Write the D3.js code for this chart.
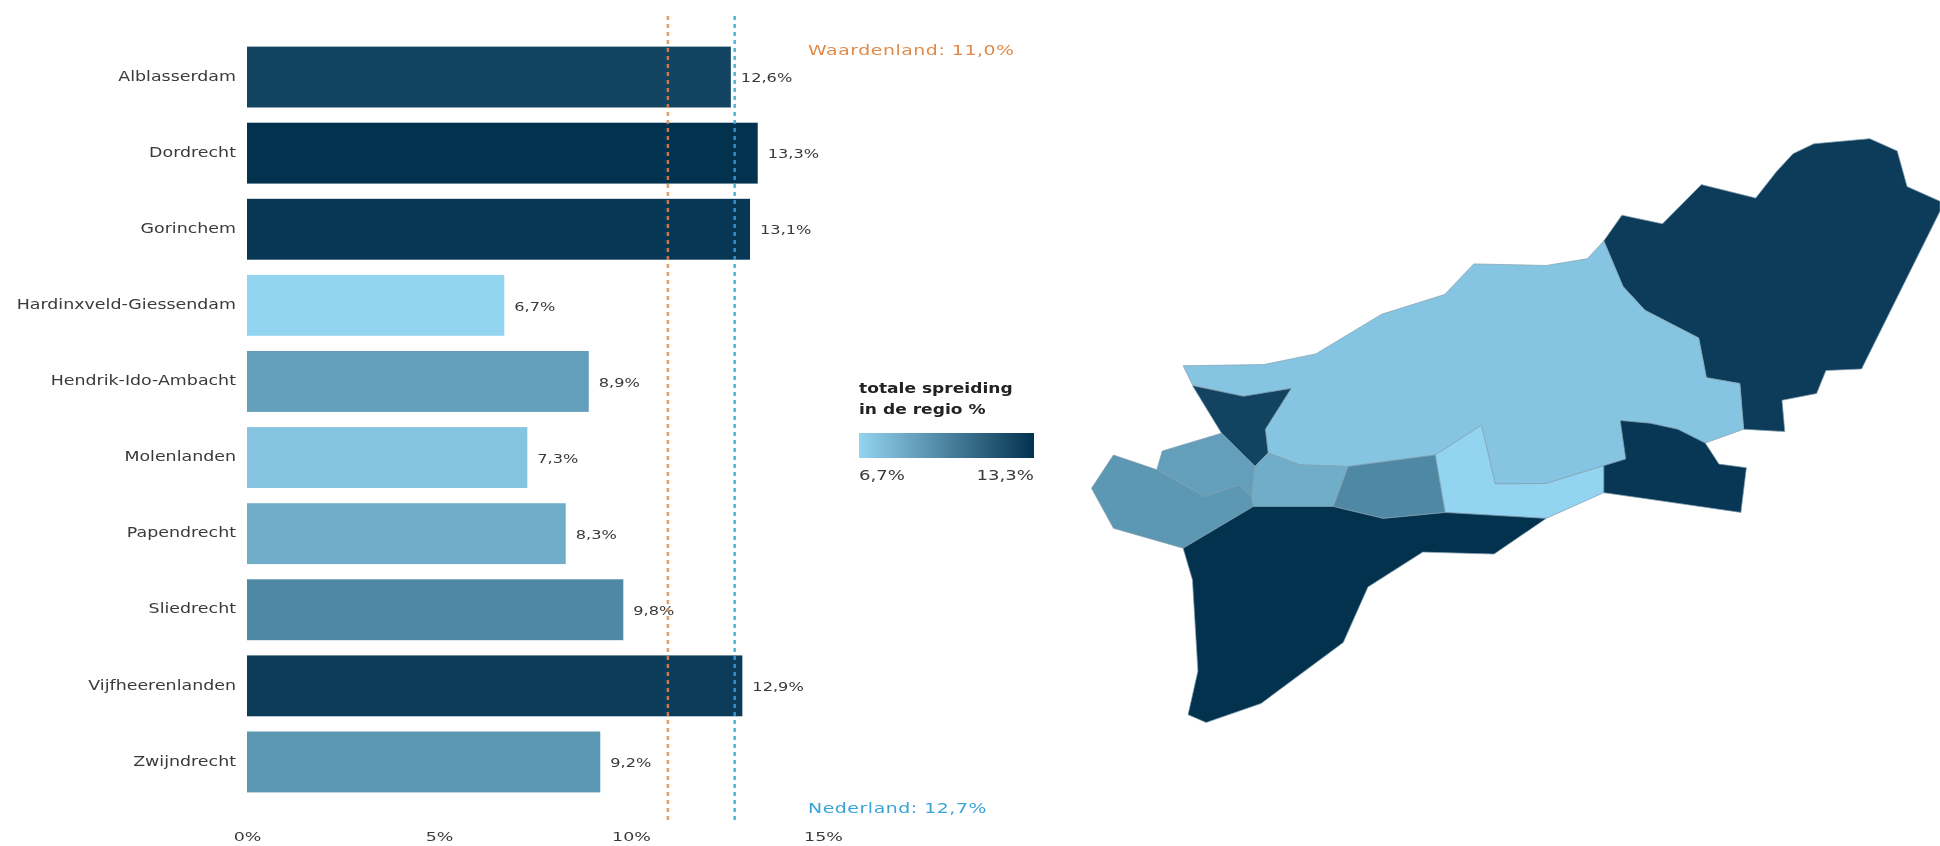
<!DOCTYPE html>
<html><head><meta charset="utf-8">
<script src="https://cdnjs.cloudflare.com/ajax/libs/d3/7.8.5/d3.min.js"></script>
<style>html,body{margin:0;padding:0;background:#fff}svg{display:block;filter:blur(0.5px)}text{font-family:"DejaVu Sans",Verdana,sans-serif}</style>
</head><body><svg id="c" width="1940" height="846"></svg>
<script>
const categories=["Alblasserdam","Dordrecht","Gorinchem","Hardinxveld-Giessendam","Hendrik-Ido-Ambacht","Molenlanden","Papendrecht","Sliedrecht","Vijfheerenlanden","Zwijndrecht"];
const values=[12.6,13.3,13.1,6.7,8.9,7.3,8.3,9.8,12.9,9.2];
const valueLabels=["12,6%","13,3%","13,1%","6,7%","8,9%","7,3%","8,3%","9,8%","12,9%","9,2%"];
const xTicks=[0,5,10,15];
const refValues=[11.0,12.7];
const refLabels=["Waardenland: 11,0%","Nederland: 12,7%"];
const refColors=["#e08a4a","#3aa3d8"];
const legendLabels=["6,7%","13,3%"];
const colorRange=["#93d4f0","#03324f"];
// map outlines in map units
const shapeVijfheerenlanden=[[955,305],[988,240],[1062,262],[1133,163],[1232,197],[1270,130],[1300,85],[1338,60],[1440,47],[1490,78],[1508,168],[1568,205],[1568,230],[1425,628],[1360,632],[1343,690],[1280,707],[1285,786],[1210,780],[1203,665],[1142,650],[1128,550],[1030,480],[990,420]];
const shapeMolenlanden=[[188,620],[335,617],[430,590],[550,490],[665,440],[718,363],[850,367],[925,350],[955,305],[990,420],[1030,480],[1128,550],[1142,650],[1203,665],[1210,780],[1140,815],[1090,780],[1040,765],[985,758],[995,855],[850,917],[757,918],[732,770],[648,845],[489,874],[401,870],[343,840],[338,780],[385,677],[298,697],[205,668]];
const shapeAlblasserdam=[[205,670],[298,697],[385,677],[338,780],[343,840],[319,874],[258,790]];
const shapeHendrik=[[150,835],[258,790],[319,874],[313,950],[289,920],[228,950],[140,882]];
const shapeZwijndrecht=[[61,845],[131,878],[140,882],[228,950],[289,920],[313,950],[316,975],[188,1080],[61,1030],[21,929]];
const shapePapendrecht=[[319,874],[343,840],[401,870],[489,874],[462,975],[316,975],[313,950]];
const shapeSliedrecht=[[489,874],[648,845],[666,990],[553,1005],[462,975]];
const shapeHardinxveld=[[648,845],[732,770],[757,918],[850,917],[955,872],[955,940],[850,1005],[666,990]];
const shapeGorinchem=[[985,758],[1040,765],[1090,780],[1140,815],[1165,868],[1215,877],[1205,990],[1030,955],[955,940],[955,872],[995,855]];
const shapeDordrecht=[[188,1080],[316,975],[462,975],[553,1005],[666,990],[850,1005],[755,1095],[625,1090],[525,1178],[480,1318],[330,1472],[230,1520],[197,1500],[215,1390],[205,1160]];
const shapes=[shapeVijfheerenlanden,shapeMolenlanden,shapeAlblasserdam,shapeHendrik,shapeZwijndrecht,shapePapendrecht,shapeSliedrecht,shapeHardinxveld,shapeGorinchem,shapeDordrecht];
const shapeValues=[12.9,7.3,12.6,8.9,9.2,8.3,9.8,6.7,13.1,13.3];

const svg=d3.select("#c");
const x=d3.scaleLinear().domain([0,15]).range([247,823]);
const y=d3.scaleBand().domain(categories).range([39,800]).paddingInner(0.2).paddingOuter(0.1);
const color=d3.scaleLinear().domain([6.7,13.3]).range(colorRange);
const textCol="#3a3a3a", fs=13.5;
const wide=(px,py,s)=>`translate(${px},${py}) scale(${s},1)`;

svg.append("g").selectAll("rect").data(categories).join("rect")
 .attr("x",x(0)).attr("y",d=>y(d)).attr("height",y.bandwidth())
 .attr("width",(d,i)=>x(values[i])-x(0)).attr("fill",(d,i)=>color(values[i]));

svg.append("g").selectAll("text").data(categories).join("text")
 .attr("transform",d=>wide(x(0)-11,y(d)+y.bandwidth()/2-1,1.29)).attr("dy","0.35em").attr("text-anchor","end")
 .attr("font-size",fs).attr("fill",textCol).text(d=>d);

svg.append("g").selectAll("text").data(categories).join("text")
 .attr("transform",(d,i)=>wide(x(values[i])+10,y(d)+y.bandwidth()/2+1,1.35)).attr("dy","0.35em")
 .attr("font-size",fs-1.5).attr("fill",textCol).text((d,i)=>valueLabels[i]);

const axis=d3.axisBottom(x).tickValues(xTicks).tickFormat(d=>d+"%").tickSize(0).tickPadding(0);
const ax=svg.append("g").attr("transform","translate(0,837)").call(axis);
ax.select(".domain").remove();
ax.selectAll("text").attr("font-size",fs-1).attr("fill",textCol).attr("font-family",'"DejaVu Sans"')
 .attr("y",0).attr("dy","0.35em").attr("transform","scale(1.4,1)");

svg.append("g").selectAll("line").data(refValues).join("line")
 .attr("x1",(d,i)=>x(d)-(i?0:1.5)).attr("x2",(d,i)=>x(d)-(i?0:1.5)).attr("y1",16).attr("y2",824)
 .attr("stroke",(d,i)=>refColors[i]).attr("stroke-width",2.5).attr("stroke-opacity",0.85).attr("stroke-dasharray","4 4");

svg.append("g").selectAll("text").data(refLabels).join("text")
 .attr("transform",(d,i)=>wide(808,i?808:50,1.35)).attr("dy","0.35em").attr("font-size",fs+0.5)
 .attr("fill",(d,i)=>refColors[i]).attr("letter-spacing",0.4).text(d=>d);

// legend
const grad=svg.append("defs").append("linearGradient").attr("id","lg");
grad.selectAll("stop").data(colorRange).join("stop").attr("offset",(d,i)=>i*100+"%").attr("stop-color",d=>d);
svg.append("rect").attr("x",859).attr("y",433).attr("width",175).attr("height",25).attr("fill","url(#lg)");
svg.append("g").selectAll("text").data(["totale spreiding","in de regio %"]).join("text")
 .attr("transform",(d,i)=>wide(859,393+21*i,1.22)).attr("font-size",14).attr("font-weight","bold").attr("fill","#222").text(d=>d);
svg.append("g").selectAll("text").data(legendLabels).join("text")
 .attr("transform",(d,i)=>wide(i?1034:859,480,1.34)).attr("text-anchor",(d,i)=>i?"end":"start")
 .attr("font-size",fs).attr("fill",textCol).text(d=>d);

// map
const mx=d3.scaleLinear().domain([0,1568]).range([1080,1940]);
const my=d3.scaleLinear().domain([0,1564]).range([120,740]);
const line=d3.line().x(d=>mx(d[0])).y(d=>my(d[1])).curve(d3.curveLinearClosed);
svg.append("g").selectAll("path").data(shapes).join("path")
 .attr("d",line).attr("fill",(d,i)=>color(shapeValues[i]))
 .attr("stroke","#7f9fb0").attr("stroke-width",0.7).attr("stroke-linejoin","round");
</script></body></html>
